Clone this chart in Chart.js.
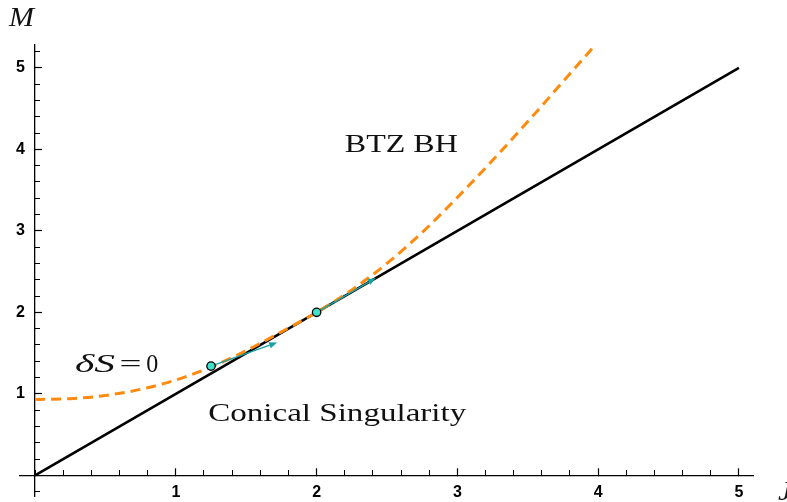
<!DOCTYPE html>
<html>
<head>
<meta charset="utf-8">
<script src="https://cdn.jsdelivr.net/npm/chart.js@4"></script>
<style>
  body { margin: 0; background: #fff; }
  canvas { display: block; }
</style>
</head>
<body>
<canvas id="chart" width="787" height="502"></canvas>
<script>
// extremal line M = J
const lineJ = [0, 5];
const lineM = [0, 5];

// dashed curve (delta S = 0)
const curveJ = [0, 0.25, 0.5, 0.75, 1, 1.25, 1.5, 1.75, 2, 2.25, 2.5, 2.75, 3, 3.25, 3.5, 3.75, 4];
const curveM = [0.93, 0.94, 0.98, 1.055, 1.17, 1.33, 1.53, 1.76, 2.0, 2.275, 2.6, 2.98, 3.41, 3.865, 4.34, 4.83, 5.32];

// marked points and their arrows
const pointJ = [1.25, 2];
const pointM = [1.34, 2];
const arrowJ = [1.72, 2.42];
const arrowM = [1.63, 2.42];

// axis ticks
const xTickLabels = [1, 2, 3, 4, 5];
const yTickLabels = [1, 2, 3, 4, 5];

const toXY = (xs, ys) => xs.map((x, i) => ({ x: x, y: ys[i] }));

function drawFit(ctx, str, font, x, y, w) {
  ctx.save();
  ctx.font = font;
  const m = ctx.measureText(str).width;
  ctx.translate(x, y);
  ctx.scale(w / m, 1);
  ctx.fillText(str, 0, 0);
  ctx.restore();
}

const arrowPlugin = {
  id: "arrows",
  afterDatasetDraw(chart, args) {
    if (args.index !== 1) return;
    const ctx = chart.ctx;
    const sx = chart.scales.x, sy = chart.scales.y;
    ctx.save();
    ctx.strokeStyle = "#17a3a3";
    ctx.fillStyle = "#17a3a3";
    ctx.lineWidth = 1.5;
    pointJ.forEach((j, i) => {
      const x0 = sx.getPixelForValue(j), y0 = sy.getPixelForValue(pointM[i]);
      const x1 = sx.getPixelForValue(arrowJ[i]), y1 = sy.getPixelForValue(arrowM[i]);
      const a = Math.atan2(y1 - y0, x1 - x0);
      const hl = 8, hw = 3.2;
      const bx = x1 - hl * Math.cos(a), by = y1 - hl * Math.sin(a);
      ctx.beginPath();
      ctx.moveTo(x0, y0);
      ctx.lineTo(bx, by);
      ctx.stroke();
      ctx.beginPath();
      ctx.moveTo(x1, y1);
      ctx.lineTo(bx + hw * Math.sin(a), by - hw * Math.cos(a));
      ctx.lineTo(bx - hw * Math.sin(a), by + hw * Math.cos(a));
      ctx.closePath();
      ctx.fill();
    });
    ctx.restore();
  }
};

const textPlugin = {
  id: "texts",
  afterDraw(chart) {
    const ctx = chart.ctx;
    const sx = chart.scales.x, sy = chart.scales.y;
    ctx.save();
    ctx.fillStyle = "#111";
    ctx.textBaseline = "alphabetic";
    ctx.textAlign = "left";
    const serif = '"Liberation Serif", "DejaVu Serif", serif';
    drawFit(ctx, "BTZ BH", "26px " + serif, sx.getPixelForValue(2.2), sy.getPixelForValue(3.97), 113);
    drawFit(ctx, "Conical Singularity", "26px " + serif, sx.getPixelForValue(1.23), sy.getPixelForValue(0.67), 258);
    drawFit(ctx, "\u03B4S", "italic 25px " + serif, sx.getPixelForValue(0.284), sy.getPixelForValue(1.27), 40);
    drawFit(ctx, "=", "26px " + serif, sx.getPixelForValue(0.6), sy.getPixelForValue(1.27), 22);
    drawFit(ctx, "0", "26px " + serif, sx.getPixelForValue(0.79), sy.getPixelForValue(1.27), 12);
    drawFit(ctx, "M", "italic 27px " + serif, 9, 26, 25);
    drawFit(ctx, "J", "italic 27px " + serif, 778, 500, 14);
    ctx.restore();
  }
};

const tickFont = { family: '"Liberation Sans", Arial, sans-serif', weight: "bold", size: 16 };

new Chart(document.getElementById("chart"), {
  type: "line",
  data: {
    datasets: [
      {
        data: toXY(pointJ, pointM),
        showLine: false,
        pointRadius: 4.2,
        pointBackgroundColor: "#3fe0cc",
        pointBorderColor: "#000",
        pointBorderWidth: 1.3,
        order: 0
      },
      {
        data: toXY(curveJ, curveM),
        borderColor: "#ff8a0d",
        borderWidth: 3,
        borderDash: [10, 6],
        pointRadius: 0,
        cubicInterpolationMode: "monotone",
        fill: false,
        order: 1
      },
      {
        data: toXY(lineJ, lineM),
        borderColor: "#000",
        borderWidth: 2.6,
        pointRadius: 0,
        fill: false,
        order: 2
      }
    ]
  },
  options: {
    responsive: false,
    animation: false,
    layout: { padding: { left: 20, right: 34, top: 45, bottom: 4 } },
    plugins: { legend: { display: false }, tooltip: { enabled: false } },
    scales: {
      x: {
        type: "linear",
        min: -0.107,
        max: 5.1,
        position: { y: 0 },
        border: { display: true, color: "#000", width: 1.3 },
        grid: { drawOnChartArea: false, drawTicks: true, tickLength: -8, color: "#000", tickWidth: 1.2 },
        ticks: {
          stepSize: 1,
          includeBounds: false,
          padding: 16,
          color: "#000",
          font: tickFont,
          callback: v => (xTickLabels.includes(v) ? String(v) : null)
        }
      },
      xMinor: {
        type: "linear",
        axis: "x",
        min: -0.107,
        max: 5.1,
        position: { y: 0 },
        border: { display: false },
        grid: { drawOnChartArea: false, drawTicks: true, tickLength: -5, color: "#000", tickWidth: 1 },
        ticks: { stepSize: 0.2, includeBounds: false, display: false }
      },
      y: {
        type: "linear",
        min: -0.26,
        max: 5.28,
        position: { x: 0 },
        border: { display: true, color: "#000", width: 1.3 },
        grid: { drawOnChartArea: false, drawTicks: true, tickLength: -8, color: "#000", tickWidth: 1.2 },
        ticks: {
          stepSize: 1,
          includeBounds: false,
          padding: -10,
          color: "#000",
          font: tickFont,
          callback: v => (yTickLabels.includes(v) ? String(v) + "  \u200A" : null)
        }
      },
      yMinor: {
        type: "linear",
        axis: "y",
        min: -0.26,
        max: 5.28,
        position: { x: 0 },
        border: { display: false },
        grid: { drawOnChartArea: false, drawTicks: true, tickLength: -5, color: "#000", tickWidth: 1 },
        ticks: { stepSize: 0.2, includeBounds: false, display: false }
      }
    }
  },
  plugins: [arrowPlugin, textPlugin]
});
</script>
</body>
</html>
